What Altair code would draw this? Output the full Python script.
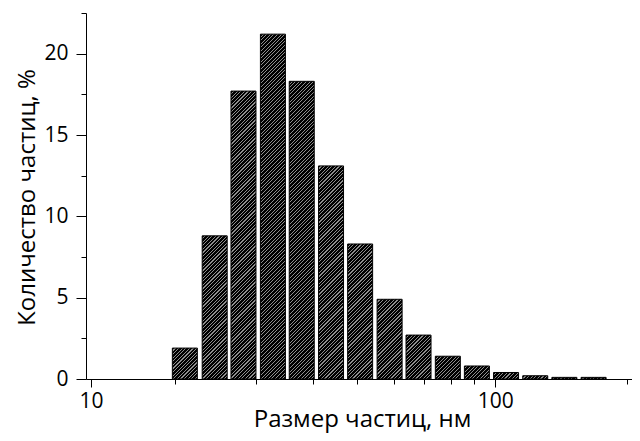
import altair as alt

# Particle size (nm), bin centres on the log axis
sizes = [21.0, 24.4, 28.2, 32.7, 37.8, 43.8, 50.7, 58.8, 68.0, 78.8, 91.2, 105.6, 122.3, 141.6, 164.0]
# Share of particles, %
counts = [1.9, 8.8, 17.7, 21.2, 18.3, 13.1, 8.3, 4.9, 2.7, 1.4, 0.8, 0.4, 0.2, 0.1, 0.1]

X_DOMAIN = [13.1, 194]
Y_DOMAIN = [0, 22.5]
x_ticks = [13.1, 20, 30, 40, 50, 60, 70, 80, 90, 100, 194]
y_ticks = [0, 2.5, 5, 7.5, 10, 12.5, 15, 17.5, 20, 22.5]

W, H = 546, 366
BAR_W = 25
FONT = "Open Sans"


def hatch(value):
    """Diagonal '/' hatch as a linear gradient in the bar's bounding box."""
    h = max(value / Y_DOMAIN[1] * H, 0.5)
    w = BAR_W
    s = (w + h) * w / (w * w + h * h)
    total = w + h
    period = 3.6
    line = 1.1
    stops = []
    pos = 0.0
    while pos < total:
        a = pos / total
        b = min((pos + period - line) / total, 1.0)
        c = min((pos + period) / total, 1.0)
        stops.append({"offset": a, "color": "#000000"})
        stops.append({"offset": b, "color": "#000000"})
        stops.append({"offset": b, "color": "#8e8e8e"})
        stops.append({"offset": c, "color": "#8e8e8e"})
        pos += period
    return {"gradient": "linear", "x1": 0, "y1": 0, "x2": s, "y2": s * h / w, "stops": stops}


records = [{"size": s, "count": c, "grad": hatch(c)} for s, c in zip(sizes, counts)]
data = alt.Data(values=records)

chart = (
    alt.Chart(data)
    .mark_bar(size=BAR_W, stroke="black", strokeWidth=1)
    .encode(
        x=alt.X(
            "size:Q",
            scale=alt.Scale(type="log", domain=X_DOMAIN, nice=False, zero=False),
            axis=alt.Axis(
                title="Размер частиц, нм",
                values=x_ticks,
                labelExpr="datum.value == 100 ? '100' : (datum.value < 15 ? '10' : '')",
                tickSize={"condition": {"test": "datum.value == 100 || datum.value < 15", "value": 8}, "value": 5},
                grid=False,
                labelFlush=False,
                labelOverlap=False,
                labelPadding=3,
                titleX=276,
                titleY=47,
                titleBaseline="alphabetic",
                titleAlign="center",
            ),
        ),
        y=alt.Y(
            "count:Q",
            scale=alt.Scale(domain=Y_DOMAIN, nice=False),
            axis=alt.Axis(
                title="Количество частиц, %",
                values=y_ticks,
                labelExpr="datum.value % 5 == 0 ? datum.label : ''",
                tickSize={"condition": {"test": "datum.value % 5 == 0", "value": 10}, "value": 5},
                grid=False,
                labelFlush=False,
                labelOverlap=False,
                labelPadding=8,
                titleX=-52,
                titleY=184,
                titleAngle=270,
                titleBaseline="alphabetic",
                titleAlign="center",
            ),
        ),
        fill=alt.Fill("grad:N", scale=None),
    )
    .properties(
        width=W,
        height=H,
        autosize="none",
        padding={"left": 78, "top": 5, "right": 0, "bottom": 54},
    )
    .configure_view(stroke=None)
    .configure_axis(
        domainColor="black",
        tickColor="black",
        labelColor="black",
        titleColor="black",
        labelFont=FONT,
        titleFont=FONT,
        labelFontSize=21,
        titleFontSize=24,
        titleFontWeight="normal",
    )
)

chart.save("out.html", embed_options={"renderer": "svg", "actions": False})
